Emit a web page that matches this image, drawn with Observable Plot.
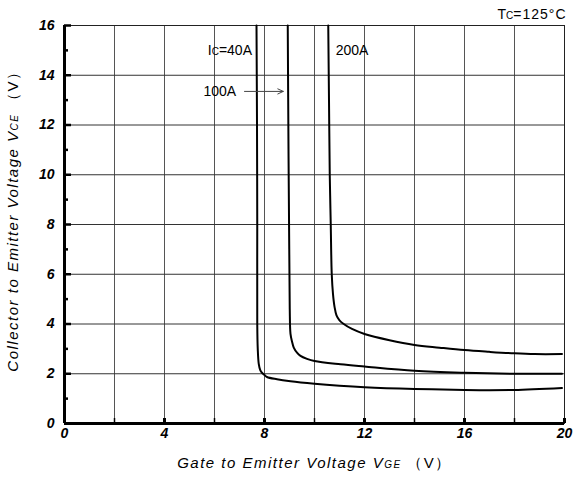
<!DOCTYPE html>
<html>
<head>
<meta charset="utf-8">
<script src="https://cdn.jsdelivr.net/npm/d3@7"></script>
<script src="https://cdn.jsdelivr.net/npm/@observablehq/plot@0.6"></script>
<style>
  html, body { margin: 0; padding: 0; background: #fff; }
  #chart svg { display: block; font-family: "Liberation Sans", Arial, sans-serif; }
  .ttl { font-style: italic; font-size: 15px; letter-spacing: 1.5px; }
</style>
</head>
<body>
<div id="chart"></div>
<script>
// ---- data ----
const xTicks = [0, 4, 8, 12, 16, 20];
const xGrid = [2, 4, 6, 8, 10, 12, 14, 16, 18];
const yTicks = [0, 2, 4, 6, 8, 10, 12, 14, 16];
const yMinor = [1, 3, 5, 7, 9, 11, 13, 15];
const xInner = [2, 4, 6, 8, 10, 12, 14, 16, 18, 20];

const vge40  = [7.68, 7.70, 7.71, 7.71, 7.73, 7.77, 7.83, 7.90, 8.00, 8.10, 8.50, 9.04, 10.0, 11.0, 12.0, 14.0, 16.0, 17.0, 18.0, 19.9];
const vce40  = [16.0, 12.0, 8.00, 4.00, 3.00, 2.40, 2.15, 2.04, 1.95, 1.87, 1.78, 1.70, 1.60, 1.52, 1.46, 1.39, 1.35, 1.34, 1.35, 1.43];
const vge100 = [8.93, 8.96, 8.99, 9.01, 9.04, 9.10, 9.17, 9.30, 9.44, 9.70, 10.0, 11.04, 12.0, 14.0, 16.0, 18.0, 19.9];
const vce100 = [16.0, 11.0, 7.00, 4.60, 3.60, 3.30, 3.05, 2.85, 2.72, 2.60, 2.51, 2.38, 2.29, 2.12, 2.04, 2.00, 2.00];
const vge200 = [10.55, 10.58, 10.61, 10.65, 10.69, 10.74, 10.80, 10.88, 11.0, 11.17, 11.5, 12.0, 13.0, 14.0, 15.0, 16.0, 17.0, 18.0, 18.8, 19.9];
const vce200 = [16.0, 13.0, 10.0, 8.00, 6.00, 5.20, 4.70, 4.35, 4.15, 4.00, 3.80, 3.60, 3.35, 3.16, 3.05, 2.95, 2.88, 2.82, 2.79, 2.79];

const labelsEnd   = [{x: 7.5,  y: 15,    text: "IC=40A"}];
const labelsStart = [{x: 10.85, y: 15,   text: "200A"}, {x: 5.56, y: 13.35, text: "100A"}];
const arrow100 = [{x1: 7.2, x2: 8.75, y: 13.35}];
const condition = "TC=125°C";

// ---- build ----
const series = [];
[[vge40, vce40, "40A"], [vge100, vce100, "100A"], [vge200, vce200, "200A"]].forEach(([xs, ys, k]) =>
  xs.forEach((x, i) => series.push({k, x, y: ys[i]})));

const chart = Plot.plot({
  width: 574,
  height: 479,
  marginLeft: 64,
  marginRight: 10,
  marginTop: 25,
  marginBottom: 56,
  x: {domain: [0, 20], label: null},
  y: {domain: [0, 16], label: null},
  marks: [
    Plot.gridX(xGrid, {stroke: "#555", strokeOpacity: 1, strokeWidth: 1}),
    Plot.gridY(yTicks.filter(d => d > 0 && d < 16), {stroke: "#333", strokeOpacity: 1, strokeWidth: 1}),
    Plot.frame({stroke: "#222", strokeWidth: 1}),
    Plot.ruleX([0], {stroke: "#000", strokeWidth: 3}),
    Plot.ruleY([0], {stroke: "#000", strokeWidth: 3}),
    Plot.axisY({ticks: yTicks, tickSize: -7, tickFormat: () => "", strokeWidth: 2.5, label: null}),
    Plot.axisY({ticks: yMinor, tickSize: -4, tickFormat: () => "", strokeWidth: 2.5, label: null}),
    Plot.axisX({ticks: xInner, tickSize: -5, tickFormat: () => "", strokeWidth: 1.5, label: null}),
    Plot.axisX({ticks: xTicks, tickSize: -5, tickFormat: () => "", strokeWidth: 3, label: null}),
    Plot.axisY({ticks: yTicks, tickSize: 0, tickPadding: 10, fontSize: 14, label: null, className: "tl"}),
    Plot.axisX({ticks: xTicks, tickSize: 0, tickPadding: 5, fontSize: 14, label: null, className: "tl"}),
    Plot.line(series, {x: "x", y: "y", z: "k", stroke: "#000", strokeWidth: 2, curve: "catmull-rom"}),
    Plot.text(labelsEnd, {x: "x", y: "y", text: "text", textAnchor: "end", fontSize: 14, className: "annot"}),
    Plot.text(labelsStart, {x: "x", y: "y", text: "text", textAnchor: "start", fontSize: 14}),
    Plot.arrow(arrow100, {x1: "x1", x2: "x2", y1: "y", y2: "y", stroke: "#444", strokeWidth: 1, headLength: 9, headAngle: 50}),
    Plot.text([condition], {frameAnchor: "top-right", dy: -16, dx: 2, text: d => d, fontSize: 14, className: "cond"}),
    Plot.text(["Gate to Emitter Voltage V"], {frameAnchor: "bottom", dy: 44, text: d => d, className: "ttl xttl"}),
    Plot.text(["Collector to Emitter Voltage V"], {frameAnchor: "left", textAnchor: "middle", dx: -51, dy: -7, rotate: -90, text: d => d, className: "ttl yttl"})
  ]
});

document.getElementById("chart").appendChild(chart);

const svg = d3.select(chart);
// italic tick labels
svg.selectAll("g[aria-label$='tick label']").attr("font-style", "italic").attr("font-weight", "bold")
  .selectAll("text").attr("font-style", "italic");

// rich text: subscripts and parenthesized units
function rich(sel, parts) {
  sel.each(function() {
    const t = d3.select(this);
    t.text(null);
    parts.forEach(p => {
      const ts = t.append("tspan").text(p.t);
      if (p.size) ts.attr("font-size", p.size);
      if (p.style) ts.attr("font-style", p.style);
      if (p.ls != null) ts.attr("letter-spacing", p.ls);
    });
  });
}
svg.selectAll(".annot text").call(s => rich(s, [{t: "I"}, {t: "C", size: 10}, {t: "=40A"}]));
svg.selectAll(".cond text").call(s => rich(s, [{t: "T"}, {t: "C", size: 10}, {t: "=125°C", ls: 1}]));
svg.selectAll(".xttl text").call(s => rich(s, [{t: "Gate to Emitter Voltage V"}, {t: "GE", size: 10}, {t: " （V）", style: "normal"}]));
svg.selectAll(".yttl text").call(s => rich(s, [{t: "Collector to Emitter Voltage V"}, {t: "CE", size: 10}, {t: " （V）", style: "normal"}]));
</script>
</body>
</html>
